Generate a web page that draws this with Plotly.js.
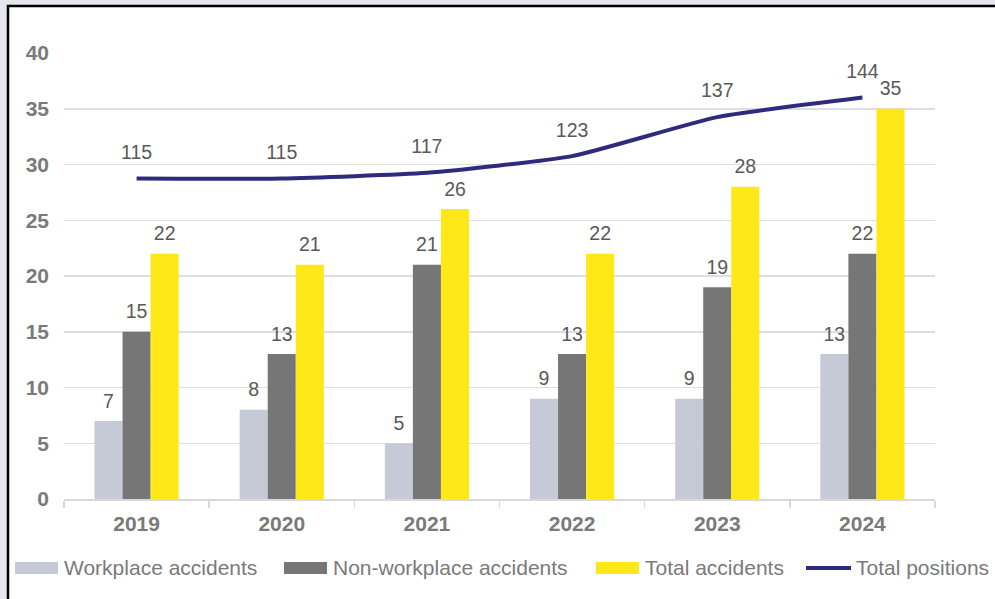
<!DOCTYPE html>
<html>
<head>
<meta charset="utf-8">
<script src="https://cdn.plot.ly/plotly-3.0.1.min.js"></script>
<style>
html,body{margin:0;padding:0;background:#e4e7eb;}
#chart{width:995px;height:599px;}
</style>
</head>
<body>
<div id="chart"></div>
<script>
// ---- data ----
const years = ['2019', '2020', '2021', '2022', '2023', '2024'];
const workplaceAccidents = [7, 8, 5, 9, 9, 13];
const nonWorkplaceAccidents = [15, 13, 21, 13, 19, 22];
const totalAccidents = [22, 21, 26, 22, 28, 35];
const totalPositions = [115, 115, 117, 123, 137, 144];
const seriesNames = ['Workplace accidents', 'Non-workplace accidents', 'Total accidents', 'Total positions'];

// ---- style ----
const FONT = 'Arial, "Liberation Sans", sans-serif';
const colors = ['#c5cad6', '#767676', '#ffe817', '#302a7c'];
const labelColor = '#595959';
const axisTextColor = '#7a7a7a';
const GAP = 0.42;

const W = 995, H = 599;
const M = {l: 64, r: 60, t: 53, b: 100};
const PW = W - M.l - M.r, PH = H - M.t - M.b;
const px = x => (x - M.l) / PW;
const py = y => (H - M.b - y) / PH;

const barSeries = [workplaceAccidents, nonWorkplaceAccidents, totalAccidents];

const traces = [];
barSeries.forEach((vals, i) => {
  traces.push({
    type: 'bar', name: seriesNames[i], x: years, y: vals,
    marker: {color: colors[i]}, showlegend: false
  });
});
// value labels, grouped the same way as the bars
barSeries.forEach((vals, i) => {
  traces.push({
    type: 'scatter', mode: 'markers+text', name: seriesNames[i] + ' labels',
    x: years, y: vals, orientation: 'v',
    marker: {size: 12, color: 'rgba(0,0,0,0)'},
    text: vals.map(String), textposition: 'top center',
    textfont: {family: FONT, size: 19.5, color: labelColor},
    cliponaxis: false, showlegend: false, hoverinfo: 'skip'
  });
});
traces.push({
  type: 'scatter', mode: 'lines+markers+text', name: seriesNames[3],
  x: years, y: totalPositions, yaxis: 'y2',
  line: {color: colors[3], width: 4, shape: 'spline', smoothing: 0.5},
  marker: {size: 22, color: 'rgba(0,0,0,0)'},
  text: totalPositions.map(String), textposition: 'top center',
  textfont: {family: FONT, size: 19.5, color: labelColor},
  cliponaxis: false, showlegend: false
});

// custom legend (wide swatches like the original)
const legendY = 568;
const legendItems = [
  {sx0: 15, sx1: 58, tx: 62, type: 'box'},
  {sx0: 284, sx1: 327, tx: 331, type: 'box'},
  {sx0: 596, sx1: 639, tx: 643, type: 'box'},
  {sx0: 806, sx1: 851, tx: 854, type: 'line'}
];

const shapes = [{
  type: 'rect', xref: 'paper', yref: 'paper', layer: 'below',
  x0: px(8), x1: px(1010), y0: py(6), y1: py(615),
  fillcolor: '#ffffff', line: {color: '#000000', width: 2.5}
}];
const annotations = [];
legendItems.forEach((it, i) => {
  if (it.type === 'box') {
    shapes.push({type: 'rect', xref: 'paper', yref: 'paper',
      x0: px(it.sx0), x1: px(it.sx1), y0: py(legendY + 6), y1: py(legendY - 6),
      fillcolor: colors[i], line: {width: 0}});
  } else {
    shapes.push({type: 'line', xref: 'paper', yref: 'paper',
      x0: px(it.sx0), x1: px(it.sx1), y0: py(legendY), y1: py(legendY),
      line: {color: colors[i], width: 4}});
  }
  annotations.push({xref: 'paper', yref: 'paper', x: px(it.tx), y: py(legendY - 1),
    xanchor: 'left', yanchor: 'middle', showarrow: false, text: seriesNames[i],
    font: {family: FONT, size: 21, color: axisTextColor}});
});

const layout = {
  width: W, height: H,
  margin: M,
  paper_bgcolor: '#e4e7eb', plot_bgcolor: 'rgba(0,0,0,0)',
  barmode: 'group', bargap: GAP, bargroupgap: 0,
  scattermode: 'group', scattergap: GAP,
  showlegend: false,
  font: {family: FONT, color: axisTextColor},
  xaxis: {
    type: 'category', showgrid: false, zeroline: false,
    showline: true, linecolor: '#d9d9d9', linewidth: 1.5,
    ticks: 'outside', tickson: 'boundaries', ticklen: 7, tickcolor: '#d9d9d9', tickwidth: 1.5,
    tickfont: {family: FONT, size: 21, color: axisTextColor, weight: 'bold'},
    ticklabelstandoff: 5
  },
  yaxis: {
    range: [0, 40], dtick: 5, tick0: 0,
    showgrid: true, gridcolor: '#dedede', gridwidth: 1.5,
    zeroline: false, showline: false, ticks: '',
    tickfont: {family: FONT, size: 21, color: axisTextColor, weight: 'bold'},
    ticklabelstandoff: 14
  },
  yaxis2: {
    range: [0, 160], overlaying: 'y', side: 'right', visible: false
  },
  shapes: shapes,
  annotations: annotations
};

Plotly.newPlot('chart', traces, layout, {displayModeBar: false, staticPlot: true});
</script>
</body>
</html>
